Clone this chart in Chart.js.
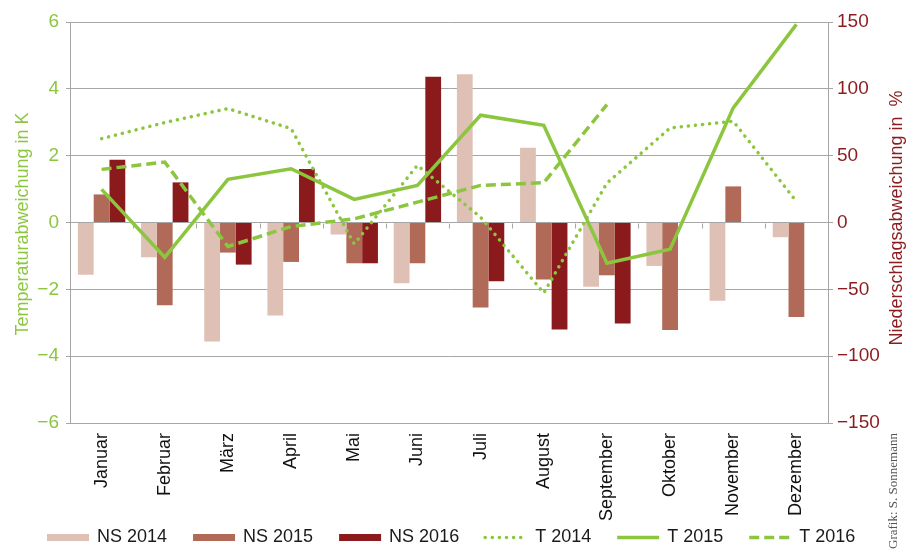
<!DOCTYPE html>
<html>
<head>
<meta charset="utf-8">
<script src="https://cdn.jsdelivr.net/npm/chart.js@4/dist/chart.umd.min.js"></script>
<style>
    html, body { margin: 0; padding: 0; background: #fff; }
    #wrap { width: 919px; height: 551px; position: relative; }
</style>
</head>
<body>
<div id="wrap"><canvas id="chart"></canvas></div>
<script>
// Monatliche Abweichungen: Niederschlag (%) und Temperatur (K)
const months = ['Januar', 'Februar', 'März', 'April', 'Mai', 'Juni', 'Juli', 'August', 'September', 'Oktober', 'November', 'Dezember'];

const ns2014 = [-39, -26, -89, -69.5, -9, -45.5, 111, 56, -48, -32.5, -58.5, -11];
const ns2015 = [21, -62, -22.5, -29.5, -30.5, -30.5, -63.5, -42.7, -39.5, -80.5, 27, -70.7];
const ns2016 = [47, 30, -31.5, 40, -30.5, 109, -44, -80, -75.5, null, null, null];

const t2014 = [2.51, 2.99, 3.41, 2.81, -0.64, 1.71, 0.16, -2.11, 1.18, 2.83, 3.03, 0.63];
const t2015 = [0.99, -1.04, 1.29, 1.61, 0.69, 1.11, 3.21, 2.91, -1.22, -0.8, 3.43, 5.93];
const t2016 = [1.59, 1.81, -0.72, -0.12, 0.11, 0.61, 1.11, 1.19, 3.53, null, null, null];

const GREEN = '#8cc63f';
const DARKRED = '#8b1c1f';
const GRID = '#a6a6a6';
const FONT = "'Liberation Sans', Arial, sans-serif";

const minus = (v) => String(v).replace('-', '\u2212');

// Achsentitel, Quelle, Legende und kleine Teilstriche an der Nulllinie
const extras = {
    id: 'extras',
    afterDatasetsDraw(chart) {
        const { ctx, scales } = chart;
        const x = scales.x;
        const y = scales.y;
        const step = x.getPixelForValue(1) - x.getPixelForValue(0);
        const y0 = Math.round(y.getPixelForValue(0)) + 0.5;
        ctx.save();
        ctx.strokeStyle = GRID;
        ctx.lineWidth = 1;
        ctx.beginPath();
        for (let i = 0; i <= months.length; i++) {
            const px = Math.round(x.getPixelForValue(i) - step / 2) + 0.5;
            ctx.moveTo(px, y0);
            ctx.lineTo(px, y0 + 5);
        }
        ctx.stroke();
        ctx.restore();
    },
    afterDraw(chart) {
        const { ctx } = chart;
        ctx.save();
        ctx.textAlign = 'center';
        ctx.textBaseline = 'middle';

        ctx.save();
        ctx.translate(23, 224);
        ctx.rotate(-Math.PI / 2);
        ctx.fillStyle = GREEN;
        ctx.font = '18px ' + FONT;
        ctx.fillText('Temperaturabweichung in K', 0, 0);
        ctx.restore();

        ctx.save();
        ctx.translate(897, 218);
        ctx.rotate(-Math.PI / 2);
        ctx.fillStyle = DARKRED;
        ctx.font = '18px ' + FONT;
        ctx.fillText('Niederschlagsabweichung in  %', 0, 0);
        ctx.restore();

        ctx.save();
        ctx.translate(894, 549);
        ctx.rotate(-Math.PI / 2);
        ctx.textAlign = 'left';
        ctx.fillStyle = '#555';
        ctx.font = "13px 'Liberation Serif', 'DejaVu Serif', serif";
        ctx.fillText('Grafik: S. Sonnemann', 0, 0);
        ctx.restore();

        // Legende
        let lx = 46;
        const ly = 537.5;
        ctx.font = '18px ' + FONT;
        ctx.textAlign = 'left';
        chart.data.datasets.forEach(ds => {
            ctx.save();
            ctx.beginPath();
            if (ds.type === 'bar') {
                ctx.strokeStyle = ds.backgroundColor;
                ctx.lineWidth = 7;
                ctx.lineCap = 'butt';
                ctx.setLineDash([]);
            } else {
                ctx.strokeStyle = ds.borderColor;
                ctx.lineWidth = ds.borderWidth;
                ctx.lineCap = ds.borderCapStyle;
                ctx.setLineDash(ds.borderDash);
            }
            ctx.moveTo(lx + 1, ly);
            ctx.lineTo(lx + 43, ly);
            ctx.stroke();
            ctx.restore();
            ctx.fillStyle = '#1a1a1a';
            ctx.fillText(ds.label, lx + 51, ly);
            lx += 51 + ctx.measureText(ds.label).width + 25;
        });

        ctx.restore();
    },
};

const barSet = (label, data, color) => ({
    type: 'bar',
    label: label,
    data: data,
    yAxisID: 'yR',
    backgroundColor: color,
    borderColor: color,
    borderWidth: 0,
    categoryPercentage: 0.75,
    barPercentage: 1.0,
    order: 1,
});

const lineSet = (label, data, dash, cap) => ({
    type: 'line',
    label: label,
    data: data,
    yAxisID: 'y',
    borderColor: GREEN,
    backgroundColor: GREEN,
    borderWidth: 3.5,
    borderDash: dash,
    borderCapStyle: cap,
    pointRadius: 0,
    tension: 0,
    fill: false,
    order: 0,
});

new Chart(document.getElementById('chart'), {
    data: {
        labels: months,
        datasets: [
            barSet('NS 2014', ns2014, '#dfc0b5'),
            barSet('NS 2015', ns2015, '#b06a57'),
            barSet('NS 2016', ns2016, '#8b1a1d'),
            lineSet('T 2014', t2014, [0.1, 7], 'round'),
            lineSet('T 2015', t2015, [], 'butt'),
            lineSet('T 2016', t2016, [10, 5], 'butt'),
        ],
    },
    options: {
        responsive: true,
        maintainAspectRatio: false,
        animation: false,
        layout: { padding: { left: 20, right: 0, top: 22, bottom: 0 } },
        plugins: {
            tooltip: { enabled: false },
            legend: { display: false },
        },
        scales: {
            x: {
                grid: { display: false, drawTicks: false },
                border: { display: true, color: GRID },
                ticks: {
                    color: '#111',
                    font: { family: FONT, size: 18 },
                    maxRotation: 90,
                    minRotation: 90,
                    autoSkip: false,
                    padding: 10,
                },
                afterFit: (scale) => { scale.height = 128; },
            },
            y: {
                position: 'left',
                min: -6,
                max: 6,
                grid: { color: GRID, tickLength: 4 },
                border: { color: GRID },
                ticks: {
                    stepSize: 2,
                    color: GREEN,
                    padding: 7,
                    font: { family: FONT, size: 19 },
                    callback: (v) => minus(v),
                },
                afterFit: (scale) => { scale.width = 50; },
            },
            yR: {
                position: 'right',
                min: -150,
                max: 150,
                grid: { drawOnChartArea: false, color: GRID, tickLength: 5 },
                border: { color: GRID },
                ticks: {
                    stepSize: 50,
                    color: DARKRED,
                    padding: 4,
                    font: { family: FONT, size: 19 },
                    callback: (v) => minus(v),
                },
                afterFit: (scale) => { scale.width = 91; },
            },
        },
    },
    plugins: [extras],
});
</script>
</body>
</html>
